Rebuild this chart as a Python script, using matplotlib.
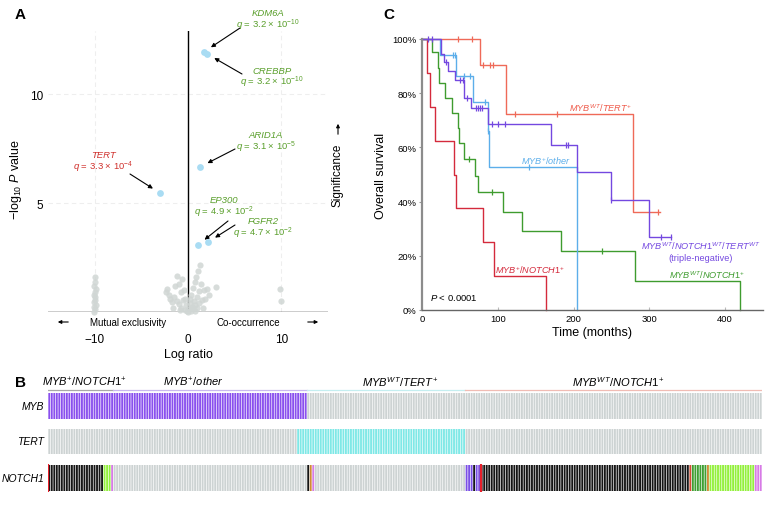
import numpy as np
import matplotlib
matplotlib.use("Agg")
import matplotlib.pyplot as plt

plt.rcParams["font.family"] = ["Liberation Sans", "DejaVu Sans"]
plt.rcParams["mathtext.fontset"] = "custom"
plt.rcParams["mathtext.rm"] = "Liberation Sans"
plt.rcParams["mathtext.it"] = "Liberation Sans:italic"
plt.rcParams["mathtext.bf"] = "Liberation Sans:bold"

W, H = 765, 506

# ---------------- A: co-occurrence volcano
# background genes (log ratio, -log10 P)
gray_x = [-10.1, -9.95, -10.05, -9.9, -10.1, -10.0, -9.95, -10.05, -10.0, -9.9, -10.05, -10.0, -10.0,
          -2.4, -2.2, -2.0, -1.9, -1.7, -1.5, -1.4, -1.2, -1.0, -1.0, -0.8, -0.7, -0.6, -0.5, -0.4,
          -0.3, -0.2, -0.1, 0.0, 0.1, 0.2, 0.3, 0.4, 0.5, 0.6, 0.7, 0.8, 0.9, 1.0, 1.1, 1.2, 1.3,
          1.4, 1.5, 1.7, 2.0, 2.2, 3.0, -1.6, -1.2, -0.9, 0.3, 0.5, 0.8, 1.0, 1.2, -0.3, 0.2, 1.6,
          1.8, 9.9, 9.95]
gray_y = [0.02, 0.12, 0.22, 0.33, 0.45, 0.56, 0.68, 0.8, 0.92, 1.05, 1.2, 1.38, 1.6,
          0.9, 1.05, 0.8, 0.6, 0.45, 0.7, 1.2, 1.65, 1.3, 0.35, 0.9, 0.2, 1.5, 0.55, 1.0,
          0.1, 0.3, 0.05, 0.0, 0.15, 0.4, 0.8, 0.25, 1.1, 0.5, 1.4, 0.3, 1.6, 0.7, 1.9, 0.95, 2.15,
          1.3, 0.55, 1.0, 1.05, 0.8, 1.15, 0.2, 0.5, 0.1, 0.05, 0.2, 0.05, 0.2, 0.4, 0.6, 0.6, 0.2,
          0.6, 1.05, 0.5]

hit_genes = ["KDM6A", "CREBBP", "ARID1A", "TERT", "EP300", "FGFR2"]
hit_x = [1.71, 2.04, 1.29, -3.0, 1.07, 2.14]
hit_y = [11.94, 11.85, 6.66, 5.46, 3.08, 3.21]
hit_q = ["3.2", "3.2", "3.1", "3.3", "4.9", "4.7"]
hit_q_exp = ["-10", "-10", "-5", "-4", "-2", "-2"]

# label centre (px) and arrow tail (px) for each hit
hit_label_px = [(268, 13.5), (272, 71), (266, 136), (103, 156), (224, 201), (263, 222)]
hit_tail_px = [(240, 29), (242, 75), (235, 150), (130, 175), (228, 222), (235, 226)]

# ---------------- B: oncoprint
n_samples = 284
group_labels = [r"$\mathit{MYB}^{+}/\mathit{NOTCH1}^{+}$", r"$\mathit{MYB}^{+}/\mathit{other}$",
                r"$\mathit{MYB}^{\mathit{WT}}/\mathit{TERT}^{+}$",
                r"$\mathit{MYB}^{\mathit{WT}}/\mathit{NOTCH1}^{+}$"]
group_start = [0, 26, 103, 166]
group_end = [26, 103, 166, 284]
group_label_pos = [14.3, 57.7, 140, 226.7]
group_line_colors = ["#a8a8a8", "#c9b8ef", "#c4eef0", "#f0bcb4"]

row_names = ["MYB", "TERT", "NOTCH1"]
myb_runs = [(0, 102, "rearr")]
tert_runs = [(99, 165, "promoter")]
notch1_runs = [(0, 21, "trunc"), (22, 24, "missense"), (25, 25, "splice"),
               (103, 103, "trunc"), (104, 104, "other"), (105, 105, "splice"),
               (166, 168, "fusion"), (169, 169, "trunc"), (170, 171, "fusion"),
               (172, 254, "trunc"), (255, 255, "nonsense"), (256, 261, "inframe"),
               (262, 262, "other"), (263, 280, "missense"), (281, 283, "splice")]
notch1_marks = [0, 172]

alt_colors = {"rearr": "#8a50ee", "promoter": "#7fe8e6", "trunc": "#151515",
              "missense": "#93f03c", "splice": "#d77be6", "other": "#d28a34",
              "fusion": "#7a4fe6", "nonsense": "#d04a30", "inframe": "#3f9f33"}

# ---------------- C: Kaplan-Meier (months, % surviving)
km_names = ["MYB+/NOTCH1+", "MYB+/other", "MYBWT/TERT+", "MYBWT/NOTCH1+", "triple-negative"]

crimson_t = [0, 7, 11, 17, 42, 45, 80, 95, 164]
crimson_s = [100, 87.5, 75, 62.5, 50, 37.5, 25, 12.5, 0]
crimson_cens = []

blue_t = [0, 23.8, 45, 67.8, 86.8, 88, 205]
blue_s = [100, 94.1, 86.5, 76.9, 66.2, 52.7, 0]
blue_cens = [41.5, 43.6, 55, 63, 83, 87.5, 141]

orange_t = [0, 76.6, 111, 278, 314]
orange_s = [100, 90.4, 72.3, 36.0, 36.0]
orange_cens = [48, 65.6, 80, 89.8, 94.2, 122.8, 178.8, 311]

green_t = [0, 13, 21, 22.5, 30.4, 40, 47, 49.3, 56, 70, 74.4, 107.5, 131.6, 183, 280.5, 420]
green_s = [100, 95.1, 89.2, 83.8, 78.1, 72.6, 67.2, 61.5, 55.7, 49.6, 43.4, 36.0, 29.0, 21.9,
           10.8, 0]
green_cens = [62, 93, 238]

purple_t = [0, 25, 29.5, 34.8, 43.6, 56, 65, 87.6, 170.4, 204.3, 249, 300, 329]
purple_s = [100, 94.5, 91.4, 88.3, 85.0, 78.1, 74.4, 68.6, 60.9, 51.0, 40.6, 27.0, 27.0]
purple_cens = [8, 13, 31.7, 50, 54, 60, 71, 74, 76, 79, 92, 100.8, 109.6, 190, 193, 249, 316, 329]


def px(x, y):
    return x / W, 1 - y / H


fig = plt.figure(figsize=(W / 100, H / 100), dpi=100)

# ================= panel A
axA = fig.add_axes([48 / W, 1 - 313 / H, 280 / W, 281 / H])
axA.set_xlim(-15, 15)
axA.set_ylim(0, 12.9)
for sp in axA.spines.values():
    sp.set_visible(False)
for v in [-10, 10]:
    axA.axvline(v, color="#eeeeee", lw=0.8, ls=(0, (4, 3)), zorder=0)
for v in [5, 10]:
    axA.axhline(v, color="#eeeeee", lw=0.8, ls=(0, (4, 3)), zorder=0)
axA.axhline(0, color="black", lw=1.0, zorder=2)
axA.axvline(0, color="black", lw=1.0, zorder=2)
axA.scatter(gray_x, gray_y, s=20, color="#d0d6d4", alpha=0.85, lw=0, clip_on=False, zorder=3)
axA.scatter(hit_x, hit_y, s=24, color="#a9dcf3", lw=0, zorder=4)
axA.set_xticks([-10, 0, 10])
axA.set_yticks([5, 10])
axA.tick_params(axis="x", length=0, pad=15, labelsize=8.5)
axA.tick_params(axis="y", length=0, pad=3.5, labelsize=8.5)

for i, gene in enumerate(hit_genes):
    col = "#d0312d" if gene == "TERT" else "#5a9f2c"
    lx, ly = hit_label_px[i]
    fig.text(*px(lx, ly), gene, ha="center", va="center", style="italic", size=6.8, color=col)
    fig.text(*px(lx, ly + 11.5), r"$q$ = %s × $10^{%s}$" % (hit_q[i], hit_q_exp[i]),
             ha="center", va="center", size=6.8, color=col)
    tx, ty = hit_tail_px[i]
    axA.annotate("", xy=(hit_x[i], hit_y[i]), xycoords="data",
                 xytext=(tx, H - ty), textcoords="figure pixels",
                 arrowprops=dict(arrowstyle="-|>", color="black", lw=0.8,
                                 mutation_scale=6, shrinkA=0, shrinkB=6))

fig.text(*px(20, 15), "A", ha="center", va="center", weight="bold", size=11)
fig.text(*px(16, 180), "−log$_{10}$ $P$ value", rotation=90, ha="center", va="center", size=9)
fig.text(*px(338, 175), "Significance", rotation=90, ha="center", va="center", size=8.5)
axA.annotate("", xy=(338, H - 122), xycoords="figure pixels", xytext=(338, H - 138),
             textcoords="figure pixels",
             arrowprops=dict(arrowstyle="-|>", color="black", lw=0.8, mutation_scale=5))
fig.text(*px(128, 323), "Mutual exclusivity", ha="center", va="center", size=7)
fig.text(*px(248, 323), "Co-occurrence", ha="center", va="center", size=7)
axA.annotate("", xy=(55, H - 323), xycoords="figure pixels", xytext=(71, H - 323),
             textcoords="figure pixels",
             arrowprops=dict(arrowstyle="-|>", color="black", lw=0.8, mutation_scale=5))
axA.annotate("", xy=(321, H - 323), xycoords="figure pixels", xytext=(305, H - 323),
             textcoords="figure pixels",
             arrowprops=dict(arrowstyle="-|>", color="black", lw=0.8, mutation_scale=5))
fig.text(*px(188, 355), "Log ratio", ha="center", va="center", size=9)

# ================= panel B
axB = fig.add_axes([48 / W, 1 - 496 / H, 714 / W, 122 / H])
axB.set_xlim(0, n_samples)
axB.set_ylim(496, 374)
axB.axis("off")
row_spans = [(394, 420), (430, 455), (466, 492)]
xs = np.arange(n_samples) + 0.5
for (top, bot), name, runs in zip(row_spans, row_names, [myb_runs, tert_runs, notch1_runs]):
    cols = ["#cdd3d3"] * n_samples
    for a, b, kind in runs:
        for k in range(a, b + 1):
            cols[k] = alt_colors[kind]
    bars = axB.bar(xs, bot - top, bottom=top, width=0.74, color=cols, lw=0)
    for bar in bars:
        bar.set_snap(False)
    axB.text(-1.6, (top + bot) / 2, name, ha="right", va="center", style="italic", size=7.5,
             clip_on=False)
for m in notch1_marks:
    axB.plot([m + 0.1, m + 0.1], [465, 493], color="#e8202a", lw=1.6, solid_capstyle="butt")
for lab, a, b, pos, c in zip(group_labels, group_start, group_end, group_label_pos,
                             group_line_colors):
    axB.plot([a, b], [391, 391], color=c, lw=0.9)
    axB.text(pos, 382.5, lab, ha="center", va="center", size=8)
fig.text(*px(20, 383), "B", ha="center", va="center", weight="bold", size=11)

# ================= panel C
axC = fig.add_axes([422 / W, 1 - 311 / H, 341 / W, 271 / H])
axC.set_xlim(0, 450)
axC.set_ylim(0, 100)
axC.spines["top"].set_visible(False)
axC.spines["right"].set_visible(False)
axC.spines["left"].set_color("#8c8c8c")
axC.spines["left"].set_linewidth(1.6)
axC.spines["bottom"].set_color("#666666")
axC.spines["bottom"].set_linewidth(1.0)
axC.set_xticks([0, 100, 200, 300, 400])
axC.set_yticks([0, 20, 40, 60, 80, 100])
axC.set_yticklabels(["%d%%" % v for v in [0, 20, 40, 60, 80, 100]])
axC.tick_params(axis="y", length=2.5, width=0.8, color="#999999", pad=1.5, labelsize=6.8)
axC.tick_params(axis="x", direction="in", length=2.5, width=0.8, color="#bbbbbb", pad=3,
                labelsize=6.8)
axC.set_xlabel("Time (months)", size=9, labelpad=2)
axC.set_ylabel("Overall survival", size=9, labelpad=4)

curves = [(crimson_t, crimson_s, crimson_cens, "#d42a3c"),
          (green_t, green_s, green_cens, "#3f9c2f"),
          (orange_t, orange_s, orange_cens, "#ef6a58"),
          (blue_t, blue_s, blue_cens, "#5caeea"),
          (purple_t, purple_s, purple_cens, "#7448e0")]
for t, s, cens, c in curves:
    axC.step(t, s, where="post", color=c, lw=1.0, clip_on=False)
    if cens:
        idx = np.searchsorted(t, cens, side="right") - 1
        axC.plot(cens, np.array(s)[idx], ls="none", marker="|", ms=5, mew=0.9, color=c,
                 clip_on=False)

axC.text(236, 74.8, r"$\mathit{MYB}^{\mathit{WT}}/\mathit{TERT}^{+}$", color="#ef5a4a",
         ha="center", va="center", size=6.6)
axC.text(163.5, 55.4, r"$\mathit{MYB}^{+}/\mathit{other}$", color="#5caeea",
         ha="center", va="center", size=6.6)
axC.text(368.6, 23.9, r"$\mathit{MYB}^{\mathit{WT}}/\mathit{NOTCH1}^{\mathit{WT}}/\mathit{TERT}^{\mathit{WT}}$",
         color="#7448e0", ha="center", va="center", size=6.6)
axC.text(367, 19.2, "(triple-negative)", color="#7448e0", ha="center", va="center", size=6.6)
axC.text(376.5, 13.3, r"$\mathit{MYB}^{\mathit{WT}}/\mathit{NOTCH1}^{+}$", color="#3f9c2f",
         ha="center", va="center", size=6.6)
axC.text(142.7, 15.1, r"$\mathit{MYB}^{+}/\mathit{NOTCH1}^{+}$", color="#d42a3c",
         ha="center", va="center", size=6.6)
axC.text(10.6, 4.8, r"$P$ < 0.0001", ha="left", va="center", size=6.8)
fig.text(*px(389, 15), "C", ha="center", va="center", weight="bold", size=11)

fig.savefig("out.png", dpi=100)
